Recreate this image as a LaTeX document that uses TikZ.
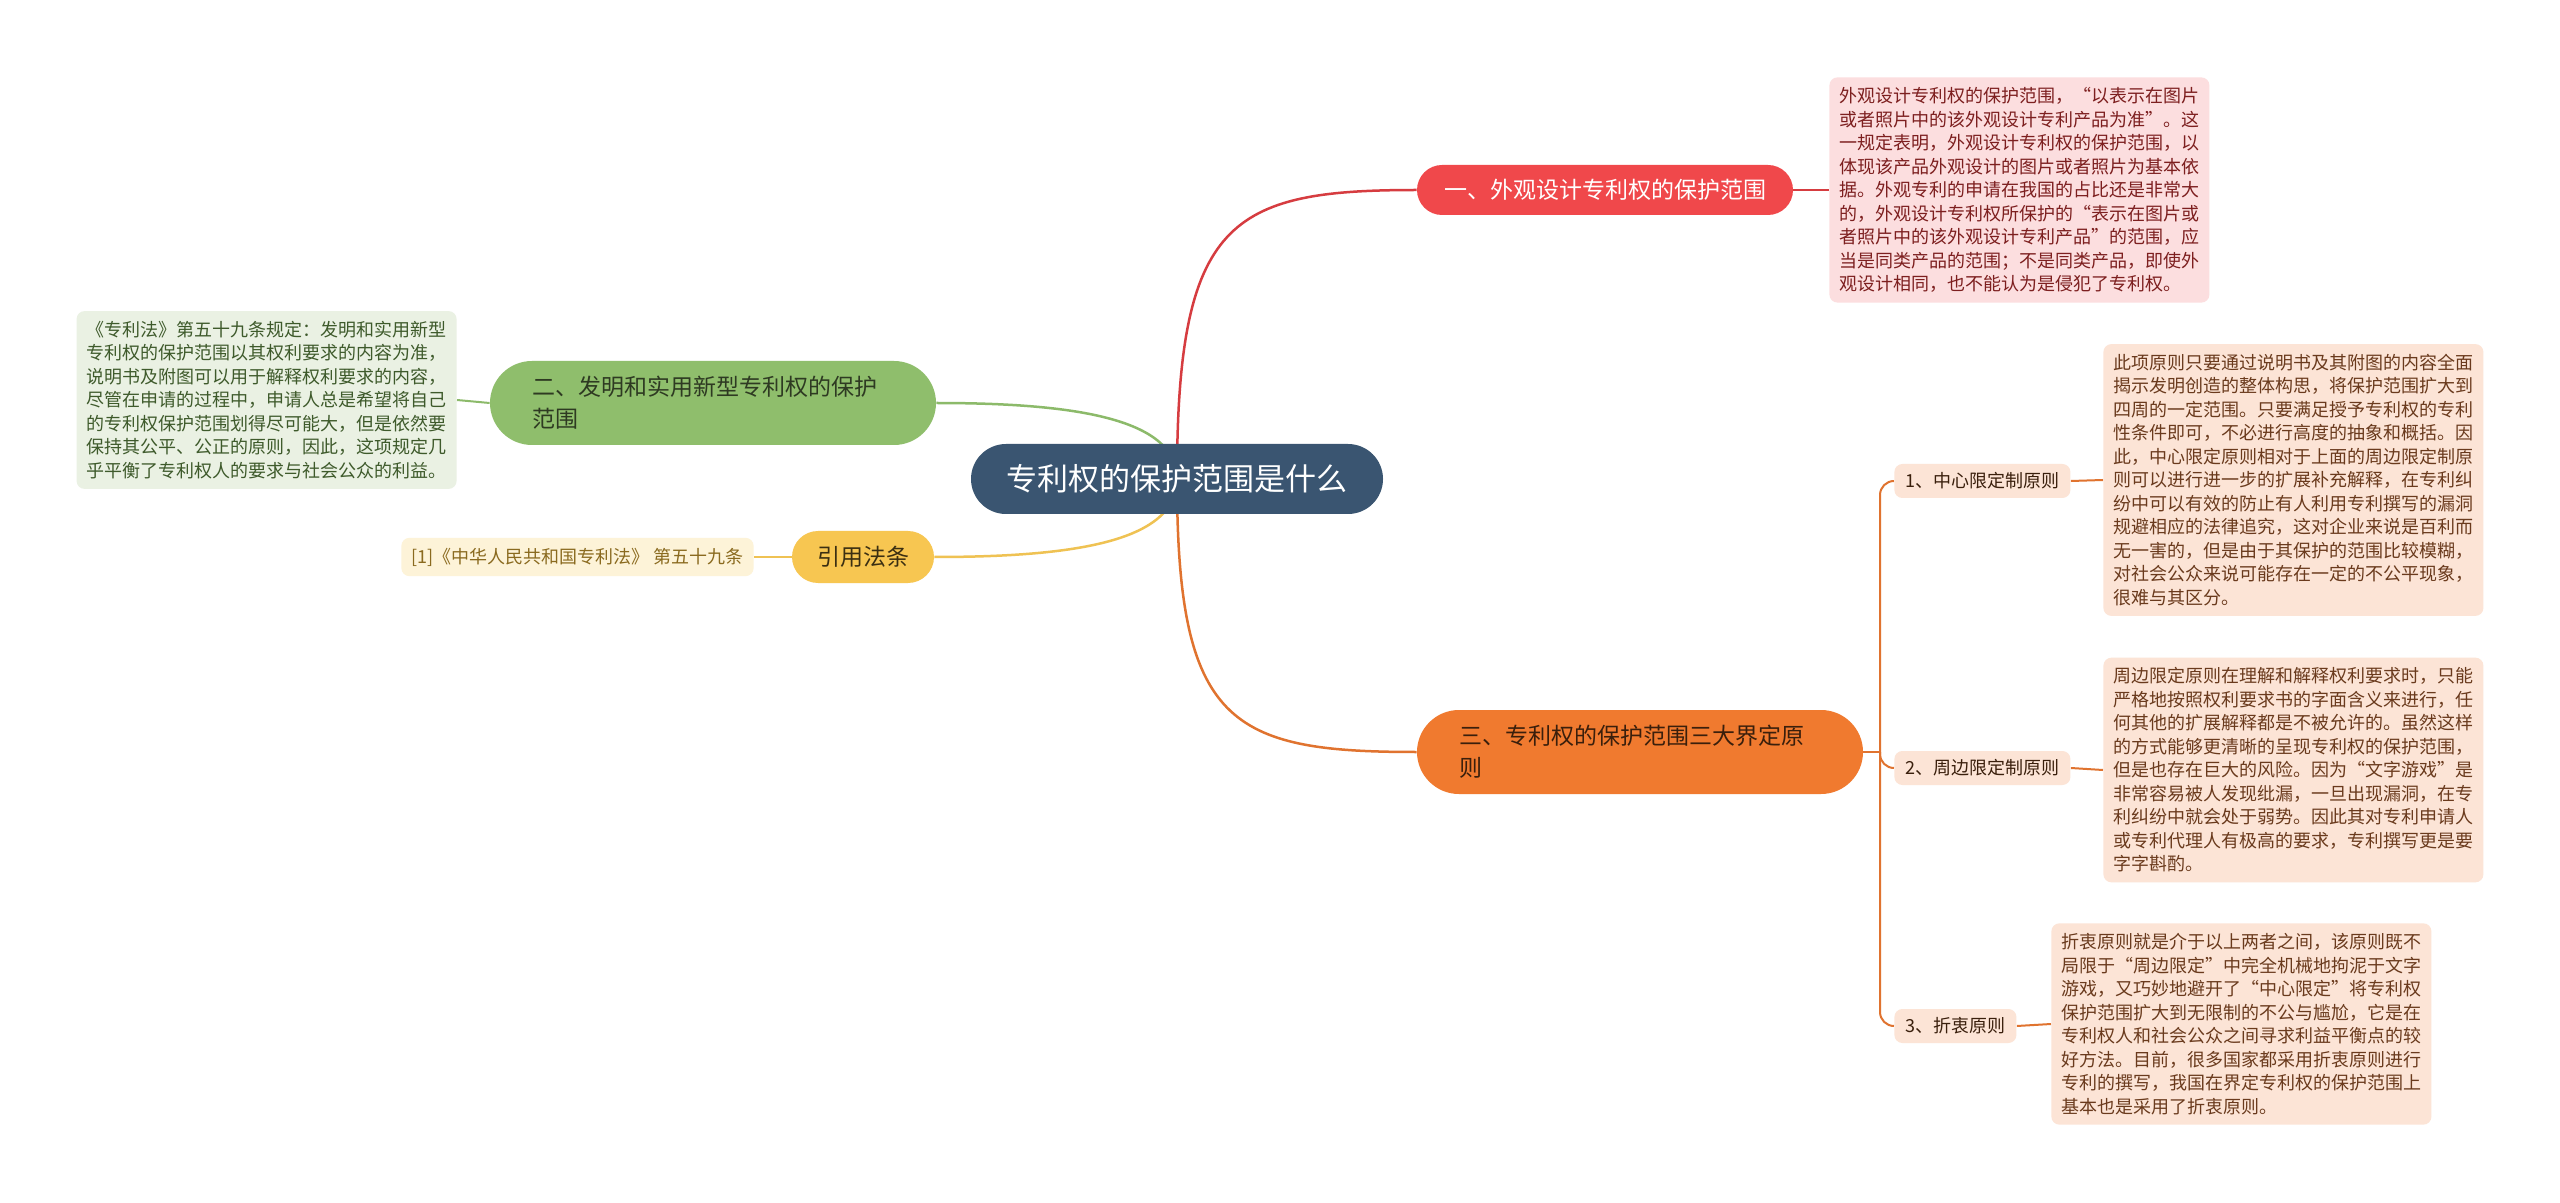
\documentclass[tikz,border=0pt]{standalone}
\usepackage{fontspec}
\setmainfont{Noto Sans CJK SC}
\usetikzlibrary{backgrounds}
\definecolor{rootfill}{HTML}{3A5571}
\definecolor{redfill}{HTML}{F0484B}
\definecolor{redline}{HTML}{D63C40}
\definecolor{redbox}{HTML}{FCDEDF}
\definecolor{redtext}{HTML}{7D1F1F}
\definecolor{greenfill}{HTML}{8FBE6C}
\definecolor{greenline}{HTML}{8CBA6A}
\definecolor{greenbox}{HTML}{EAF1E3}
\definecolor{greentext}{HTML}{3E5A2B}
\definecolor{greendark}{HTML}{2E3A22}
\definecolor{yellowfill}{HTML}{F7C651}
\definecolor{yellowline}{HTML}{EFC253}
\definecolor{yellowbox}{HTML}{FDF3D8}
\definecolor{yellowtext}{HTML}{8A6A1F}
\definecolor{yellowdark}{HTML}{3B2F12}
\definecolor{orangefill}{HTML}{F07A2F}
\definecolor{orangeline}{HTML}{E0732F}
\definecolor{orangebox}{HTML}{FCE4D6}
\definecolor{orangetext}{HTML}{6A3A1D}
\definecolor{orangedark}{HTML}{3A1F0C}
\def\detailfont{\fontsize{9pt}{11.75pt}\selectfont}
\def\branchfont{\fontsize{11.5pt}{16pt}\selectfont}

\begin{document}
\begin{tikzpicture}[x=0.5pt,y=-0.5pt,line cap=round,
    root/.style={fill=rootfill,text=white,rounded corners=17.5pt,minimum width=206pt,minimum height=35pt,font=\fontsize{15.5pt}{18pt}\selectfont},
    branch/.style={rounded corners=12.5pt,minimum height=25pt,font=\branchfont},
    wide/.style={rounded corners=21pt,minimum height=42pt,text width=181pt,inner xsep=21pt,align=left,font=\branchfont},
    detail/.style={rounded corners=4pt,align=left,inner sep=5pt,font=\detailfont},
    sublabel/.style={fill=orangebox,text=orangedark,rounded corners=4pt,minimum height=17pt,inner xsep=5.5pt,font=\detailfont},
    link/.style={draw=#1,line width=1.25pt},
    stub/.style={draw=#1,line width=1pt}]

    \useasboundingbox (0,0) rectangle (2560,1203);

    \node[root] (root) at (1177,479) {专利权的保护范围是什么};

    % branch one
    \node[branch,fill=redfill,text=white,minimum width=188pt] (appear) at (1605,190) {一、外观设计专利权的保护范围};
    \node[detail,fill=redbox,text=redtext,anchor=west] (appeardet) at (1829,190) {外观设计专利权的保护范围，“以表示在图片\\或者照片中的该外观设计专利产品为准”。这\\一规定表明，外观设计专利权的保护范围，以\\体现该产品外观设计的图片或者照片为基本依\\据。外观专利的申请在我国的占比还是非常大\\的，外观设计专利权所保护的“表示在图片或\\者照片中的该外观设计专利产品”的范围，应\\当是同类产品的范围；不是同类产品，即使外\\观设计相同，也不能认为是侵犯了专利权。};

    % branch two
    \node[wide,fill=greenfill,text=greendark] (invent) at (713,403) {二、发明和实用新型专利权的保护\\范围};
    \node[detail,fill=greenbox,text=greentext,anchor=east] (inventdet) at (457,400) {《专利法》第五十九条规定：发明和实用新型\\专利权的保护范围以其权利要求的内容为准，\\说明书及附图可以用于解释权利要求的内容，\\尽管在申请的过程中，申请人总是希望将自己\\的专利权保护范围划得尽可能大，但是依然要\\保持其公平、公正的原则，因此，这项规定几\\乎平衡了专利权人的要求与社会公众的利益。};

    % cited article
    \node[branch,fill=yellowfill,text=yellowdark,minimum width=71pt,minimum height=26pt,rounded corners=13pt] (cite) at (863,557) {引用法条};
    \node[detail,fill=yellowbox,text=yellowtext,anchor=east] (citedet) at (754,557) {[1]《中华人民共和国专利法》 第五十九条};

    % branch three
    \node[wide,fill=orangefill,text=orangedark] (rule) at (1640,752) {三、专利权的保护范围三大界定原\\则};
    \coordinate (fork) at (1880,752);
    \node[sublabel,anchor=west] (centre) at (1894,481) {1、中心限定制原则};
    \node[sublabel,anchor=west] (edge) at (1894,768) {2、周边限定制原则};
    \node[sublabel,anchor=west] (mixed) at (1894,1026) {3、折衷原则};
    \node[detail,fill=orangebox,text=orangetext,anchor=west] (centredet) at (2103,480) {此项原则只要通过说明书及其附图的内容全面\\揭示发明创造的整体构思，将保护范围扩大到\\四周的一定范围。只要满足授予专利权的专利\\性条件即可，不必进行高度的抽象和概括。因\\此，中心限定原则相对于上面的周边限定制原\\则可以进行进一步的扩展补充解释，在专利纠\\纷中可以有效的防止有人利用专利撰写的漏洞\\规避相应的法律追究，这对企业来说是百利而\\无一害的，但是由于其保护的范围比较模糊，\\对社会公众来说可能存在一定的不公平现象，\\很难与其区分。};
    \node[detail,fill=orangebox,text=orangetext,anchor=west] (edgedet) at (2103,770) {周边限定原则在理解和解释权利要求时，只能\\严格地按照权利要求书的字面含义来进行，任\\何其他的扩展解释都是不被允许的。虽然这样\\的方式能够更清晰的呈现专利权的保护范围，\\但是也存在巨大的风险。因为“文字游戏”是\\非常容易被人发现纰漏，一旦出现漏洞，在专\\利纠纷中就会处于弱势。因此其对专利申请人\\或专利代理人有极高的要求，专利撰写更是要\\字字斟酌。};
    \node[detail,fill=orangebox,text=orangetext,anchor=west] (mixeddet) at (2051,1024) {折衷原则就是介于以上两者之间，该原则既不\\局限于“周边限定”中完全机械地拘泥于文字\\游戏，又巧妙地避开了“中心限定”将专利权\\保护范围扩大到无限制的不公与尴尬，它是在\\专利权人和社会公众之间寻求利益平衡点的较\\好方法。目前，很多国家都采用折衷原则进行\\专利的撰写，我国在界定专利权的保护范围上\\基本也是采用了折衷原则。};

    \begin{scope}[on background layer]
        \fill[white] (0,0) rectangle (2560,1203);
        \draw[link=redline] (root.center) .. controls (1177,220) and (1230,190) .. (appear.west);
        \draw[link=orangeline] (root.center) .. controls (1177,724) and (1230,752) .. (rule.west);
        \draw[link=greenline] (invent.east) .. controls (1080,403) and (1177,420) .. (root.center);
        \draw[link=yellowline] (cite.east) .. controls (1080,557) and (1177,540) .. (root.center);
        \draw[stub=redline] (appear.east) -- (appeardet.west);
        \draw[stub=greenline] (inventdet.east) -- (invent.west);
        \draw[stub=yellowline] (citedet.east) -- (cite.west);
        \draw[stub=orangeline] (rule.east) -- (fork);
        \draw[stub=orangeline,rounded corners=7pt] (fork) |- (centre.west);
        \draw[stub=orangeline,rounded corners=7pt] (fork) |- (edge.west);
        \draw[stub=orangeline,rounded corners=7pt] (fork) |- (mixed.west);
        \draw[stub=orangeline] (centre.east) -- (centredet.west);
        \draw[stub=orangeline] (edge.east) -- (edgedet.west);
        \draw[stub=orangeline] (mixed.east) -- (mixeddet.west);
    \end{scope}
\end{tikzpicture}
\end{document}
